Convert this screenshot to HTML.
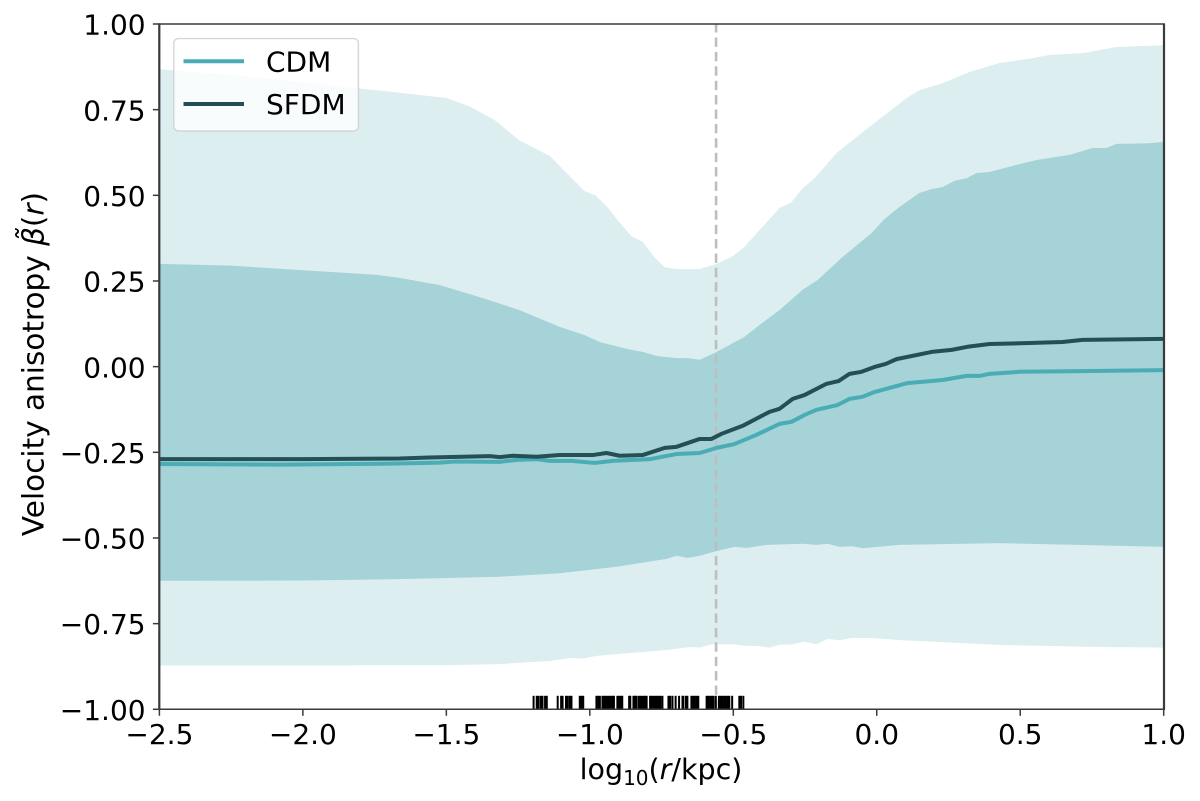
<!DOCTYPE html>
<html lang="en">
<head>
<meta charset="utf-8">
<title>Velocity anisotropy profile</title>
<style>
html,body{margin:0;padding:0;background:#fff;width:1200px;height:801px;overflow:hidden}
svg{display:block}
text{font-family:"DejaVu Sans","Liberation Sans",sans-serif;fill:#000;font-size:28px}
</style>
</head>
<body>
<svg id="chart" xmlns="http://www.w3.org/2000/svg" width="1200" height="801" viewBox="0 0 1200 801">
  <rect x="0" y="0" width="1200" height="801" fill="#fff"/>
  <g id="bands"></g>
  <g id="refline"></g>
  <g id="series"></g>
  <g id="rug"></g>
  <g id="legend">
    <rect x="173.8" y="38.6" width="184.6" height="92.4" rx="4.5" ry="4.5" fill="#fff" fill-opacity="0.8" stroke="#ccc" stroke-opacity="0.8" stroke-width="1.4"/>
    <line x1="183.5" x2="244" y1="61.3" y2="61.3" stroke="#4aacb4" stroke-width="4"/>
    <text x="266" y="71.5">CDM</text>
    <line x1="183.5" x2="244" y1="104" y2="104" stroke="#234f55" stroke-width="4"/>
    <text x="266" y="114">SFDM</text>
  </g>
  <g id="axes"></g>
  <text x="661" y="779" text-anchor="middle" style="font-size:28.5px">log<tspan style="font-size:20px" dy="6">10</tspan><tspan dy="-6">(</tspan><tspan font-style="italic">r</tspan>/kpc)</text>
  <text transform="translate(43.5,364) rotate(-90)" text-anchor="middle" style="font-size:29.5px">Velocity anisotropy <tspan font-style="italic">β̃</tspan>(<tspan font-style="italic">r</tspan>)</text>
</svg>
<script>
const upper95X = [-2.5,-2.25,-2.0,-1.75,-1.5,-1.421,-1.333,-1.246,-1.141,-1.019,-0.981,-0.939,-0.897,-0.855,-0.817,-0.775,-0.74,-0.702,-0.618,-0.559,-0.503,-0.462,-0.34,-0.298,-0.26,-0.218,-0.138,-0.026,0.103,0.148,0.228,0.322,0.427,0.542,0.601,0.716,0.834,1.0];
const upper95Y = [0.868,0.851,0.83,0.807,0.784,0.76,0.72,0.66,0.615,0.512,0.5,0.465,0.42,0.38,0.365,0.318,0.29,0.285,0.285,0.3,0.322,0.35,0.463,0.48,0.52,0.55,0.626,0.7,0.784,0.807,0.827,0.86,0.886,0.9,0.91,0.915,0.933,0.938];
const lower95X = [-2.5,-2.0,-1.49,-1.315,-1.141,-1.064,-1.026,-0.977,-0.852,-0.733,-0.653,-0.618,-0.577,-0.503,-0.455,-0.416,-0.375,-0.34,-0.294,-0.253,-0.211,-0.172,-0.131,-0.089,-0.016,0.078,0.427,0.775,1.0];
const lower95Y = [-0.872,-0.872,-0.871,-0.868,-0.859,-0.85,-0.852,-0.844,-0.835,-0.827,-0.818,-0.82,-0.81,-0.81,-0.815,-0.815,-0.82,-0.812,-0.81,-0.803,-0.81,-0.795,-0.798,-0.792,-0.792,-0.798,-0.812,-0.818,-0.82];
const upper68X = [-2.5,-2.25,-2.071,-1.838,-1.744,-1.664,-1.524,-1.385,-1.246,-1.106,-1.019,-0.967,-0.873,-0.817,-0.768,-0.699,-0.66,-0.618,-0.559,-0.462,-0.409,-0.34,-0.26,-0.207,-0.12,-0.019,0.026,0.078,0.148,0.19,0.228,0.27,0.312,0.347,0.392,0.486,0.556,0.671,0.751,0.8,0.834,0.949,1.0];
const upper68Y = [0.3,0.295,0.285,0.273,0.268,0.259,0.238,0.203,0.165,0.116,0.092,0.072,0.052,0.043,0.031,0.025,0.025,0.02,0.043,0.087,0.122,0.165,0.224,0.253,0.32,0.39,0.431,0.466,0.507,0.518,0.524,0.542,0.55,0.565,0.568,0.589,0.603,0.618,0.638,0.638,0.65,0.652,0.656];
const lower68X = [-2.5,-2.0,-1.664,-1.315,-1.106,-0.908,-0.817,-0.733,-0.699,-0.66,-0.618,-0.559,-0.497,-0.455,-0.385,-0.26,-0.211,-0.172,-0.131,-0.085,-0.051,0.078,0.427,1.0];
const lower68Y = [-0.625,-0.624,-0.62,-0.613,-0.603,-0.584,-0.572,-0.561,-0.552,-0.558,-0.552,-0.538,-0.526,-0.529,-0.52,-0.517,-0.52,-0.517,-0.526,-0.524,-0.53,-0.52,-0.515,-0.526];
const cdmX = [-2.5,-2.082,-1.699,-1.524,-1.472,-1.315,-1.256,-1.186,-1.141,-1.064,-0.984,-0.922,-0.793,-0.699,-0.618,-0.559,-0.497,-0.42,-0.34,-0.298,-0.253,-0.211,-0.138,-0.096,-0.051,-0.009,0.106,0.228,0.312,0.357,0.392,0.497,0.706,1.0];
const cdmY = [-0.284,-0.286,-0.283,-0.28,-0.277,-0.278,-0.272,-0.27,-0.275,-0.275,-0.281,-0.275,-0.27,-0.255,-0.252,-0.237,-0.226,-0.199,-0.167,-0.161,-0.141,-0.126,-0.112,-0.094,-0.088,-0.074,-0.048,-0.039,-0.027,-0.027,-0.021,-0.015,-0.013,-0.01];
const sfdmX = [-2.5,-2.0,-1.664,-1.559,-1.35,-1.315,-1.27,-1.186,-1.106,-0.991,-0.943,-0.897,-0.817,-0.74,-0.699,-0.618,-0.577,-0.542,-0.469,-0.375,-0.34,-0.294,-0.253,-0.176,-0.134,-0.096,-0.054,-0.009,0.03,0.068,0.19,0.26,0.315,0.392,0.531,0.646,0.716,1.0];
const sfdmY = [-0.27,-0.27,-0.268,-0.265,-0.261,-0.264,-0.26,-0.263,-0.258,-0.258,-0.252,-0.26,-0.258,-0.237,-0.234,-0.211,-0.211,-0.196,-0.173,-0.132,-0.123,-0.094,-0.083,-0.05,-0.042,-0.021,-0.015,-0.001,0.008,0.022,0.043,0.049,0.058,0.066,0.069,0.072,0.078,0.081];
const rugValues = [-1.197,-1.186,-1.18,-1.172,-1.166,-1.157,-1.151,-1.113,-1.101,-1.096,-1.084,-1.078,-1.071,-1.065,-1.036,-1.03,-1.024,-0.978,-0.972,-0.966,-0.957,-0.951,-0.945,-0.939,-0.933,-0.927,-0.921,-0.917,-0.905,-0.899,-0.893,-0.888,-0.864,-0.86,-0.849,-0.844,-0.84,-0.832,-0.826,-0.82,-0.814,-0.808,-0.803,-0.791,-0.785,-0.779,-0.773,-0.767,-0.761,-0.755,-0.748,-0.727,-0.721,-0.713,-0.702,-0.69,-0.678,-0.675,-0.666,-0.661,-0.647,-0.641,-0.635,-0.629,-0.623,-0.594,-0.588,-0.582,-0.576,-0.57,-0.562,-0.551,-0.545,-0.539,-0.533,-0.527,-0.521,-0.515,-0.505,-0.48,-0.474,-0.466];
const referenceX = [-0.561];
const xTickValues = [-2.5,-2.0,-1.5,-1.0,-0.5,0.0,0.5,1.0];
const xTickLabels = ["−2.5","−2.0","−1.5","−1.0","−0.5","0.0","0.5","1.0"];
const yTickValues = [-1,-0.75,-0.5,-0.25,0,0.25,0.5,0.75,1];
const yTickLabels = ["−1.00","−0.75","−0.50","−0.25","0.00","0.25","0.50","0.75","1.00"];

const NS = "http://www.w3.org/2000/svg";
const plotLeft = 159.7, plotRight = 1164, plotTop = 24, plotBottom = 709.3;
const sx = x => plotLeft + (x + 2.5) / 3.5 * (plotRight - plotLeft);
const sy = v => plotBottom - (v + 1) / 2 * (plotBottom - plotTop);
const mk = (tag, attrs, parent) => {
  const el = document.createElementNS(NS, tag);
  for (const k in attrs) el.setAttribute(k, attrs[k]);
  parent.appendChild(el);
  return el;
};
const pts = (xs, ys) => xs.map((x, i) => sx(x).toFixed(2) + "," + sy(ys[i]).toFixed(2));
const bandPoints = (ux, uy, lx, ly) => pts(ux, uy).concat(pts(lx, ly).reverse()).join(" ");

const bands = document.getElementById("bands");
const outer = mk("polygon", {points: bandPoints(upper95X, upper95Y, lower95X, lower95Y), fill: "#dceeef"}, bands);


const inner = mk("polygon", {points: bandPoints(upper68X, upper68Y, lower68X, lower68Y), fill: "#a5d3d7"}, bands);



const ref = mk("line", {x1: sx(referenceX[0]), x2: sx(referenceX[0]), y1: sy(-1), y2: sy(1), stroke: "#bcbfc0", "stroke-width": 2.6, "stroke-dasharray": "9.4 5"}, document.getElementById("refline"));



const series = document.getElementById("series");
const cdmLine = mk("polyline", {points: pts(cdmX, cdmY).join(" "), fill: "none", stroke: "#4aacb4", "stroke-width": 4, "stroke-linejoin": "round"}, series);


const sfdmLine = mk("polyline", {points: pts(sfdmX, sfdmY).join(" "), fill: "none", stroke: "#234f55", "stroke-width": 4, "stroke-linejoin": "round"}, series);



const rug = document.getElementById("rug");
rugValues.forEach(v => {
  const t = mk("line", {x1: sx(v), x2: sx(v), y1: sy(-1), y2: sy(-1) - 13.5, stroke: "#000", "stroke-width": 2}, rug);
  
  
});

const axes = document.getElementById("axes");
const spineColor = "#3a3a3a";
[["spine-left", plotLeft - 0.4, plotTop, plotLeft - 0.4, plotBottom, 2.2],
 ["spine-right", plotRight, plotTop, plotRight, plotBottom, 2.2],
 ["spine-top", plotLeft - 1.5, plotTop, plotRight + 1, plotTop, 1.5],
 ["spine-bottom", plotLeft - 1.5, plotBottom, plotRight + 1, plotBottom, 1.5]].forEach(s => {
  const l = mk("line", {x1: s[1], y1: s[2], x2: s[3], y2: s[4], stroke: spineColor, "stroke-width": s[5]}, axes);
  
  
});
xTickValues.forEach((v, i) => {
  const t = mk("line", {x1: sx(v) - 0.3, x2: sx(v) - 0.3, y1: plotBottom, y2: plotBottom + 6.5, stroke: spineColor, "stroke-width": 1.5}, axes);
  
  
  const lab = mk("text", {x: sx(v) - 0.3, y: 744, "text-anchor": "middle"}, axes);
  lab.textContent = xTickLabels[i];
  
  
});
yTickValues.forEach((v, i) => {
  const t = mk("line", {x1: plotLeft - 6.8, x2: plotLeft, y1: sy(v), y2: sy(v), stroke: spineColor, "stroke-width": 1.5}, axes);
  
  
  const lab = mk("text", {x: 145.6, y: sy(v) + 10.6, "text-anchor": "end"}, axes);
  lab.textContent = yTickLabels[i];
  
  
});
</script>
</body>
</html>
